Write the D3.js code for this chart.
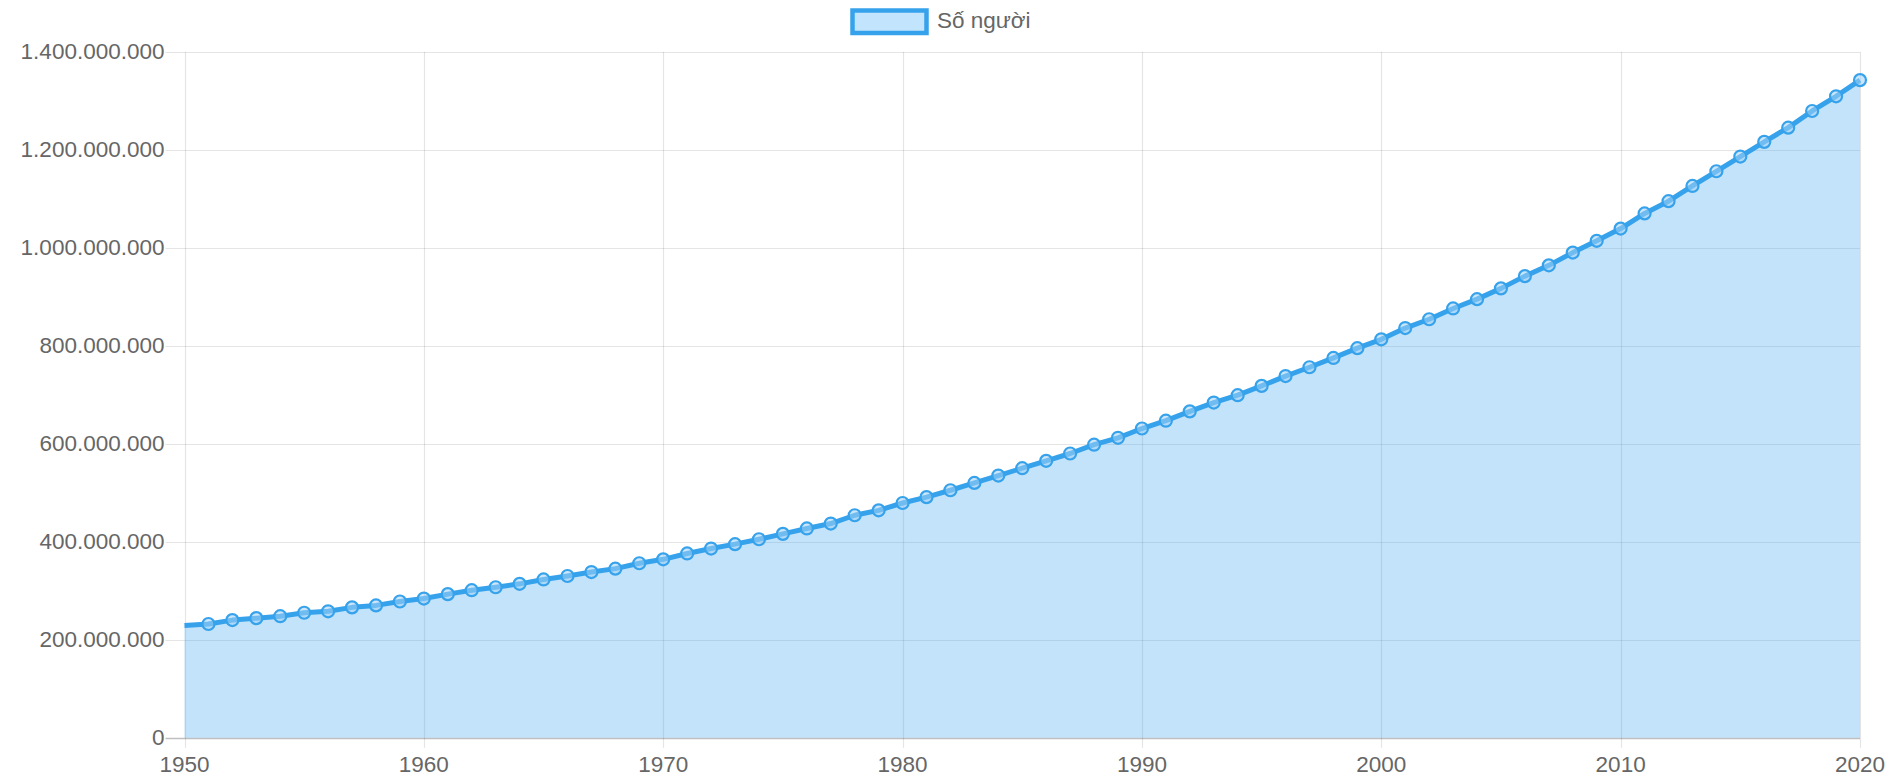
<!DOCTYPE html>
<html>
<head>
<meta charset="utf-8">
<script src="https://cdn.jsdelivr.net/npm/d3@7"></script>
<style>
  html, body { margin: 0; padding: 0; background: #fff; }
  svg { display: block; }
  text { font-family: "Liberation Sans", Arial, Helvetica, sans-serif; fill: #666; }
</style>
</head>
<body>
<svg id="chart" width="1893" height="776"></svg>
<script>
// ---- data ----
const seriesName = "Số người";
const years = [
  1950,1951,1952,1953,1954,1955,1956,1957,1958,1959,
  1960,1961,1962,1963,1964,1965,1966,1967,1968,1969,
  1970,1971,1972,1973,1974,1975,1976,1977,1978,1979,
  1980,1981,1982,1983,1984,1985,1986,1987,1988,1989,
  1990,1991,1992,1993,1994,1995,1996,1997,1998,1999,
  2000,2001,2002,2003,2004,2005,2006,2007,2008,2009,
  2010,2011,2012,2013,2014,2015,2016,2017,2018,2019,2020
];
const people = [
  229e6,232e6,240e6,244e6,248e6,255e6,258e6,266e6,270e6,278e6,
  284e6,293e6,301e6,307e6,314e6,323e6,330e6,338e6,345e6,356e6,
  364e6,376e6,386e6,395e6,405e6,416e6,427e6,437e6,454e6,464e6,
  479e6,491e6,505e6,520e6,535e6,550e6,565e6,580e6,598e6,612e6,
  631e6,647e6,666e6,684e6,699e6,718e6,738e6,756e6,775e6,795e6,
  813e6,836e6,854e6,876e6,895e6,917e6,942e6,964e6,990e6,1014e6,
  1039e6,1070e6,1095e6,1126e6,1156e6,1186e6,1216e6,1245e6,1279e6,1309e6,1342e6
];
const yTicks = [0,200e6,400e6,600e6,800e6,1000e6,1200e6,1400e6];
const xTicks = [1950,1960,1970,1980,1990,2000,2010,2020];

// ---- layout ----
const svg = d3.select("#chart");
const pLeft = 184.5, pRight = 1860, pTop = 51.7, pBottom = 737.7;
const fontSize = 22.5;
const blue = "#36A2EB";
const fillCol = "rgba(54,162,235,0.3)";

const x = d3.scaleLinear().domain([1950, 2020]).range([pLeft, pRight]);
const y = d3.scaleLinear().domain([0, 1400e6]).range([pBottom, pTop]);

const vi = d3.formatLocale({decimal: ",", thousands: ".", grouping: [3], currency: ["", ""]});
const fmt = vi.format(",");

const data = years.map((yr, i) => ({yr, v: people[i]}));

// gridlines
const grid = svg.append("g");
grid.selectAll(".hg").data(yTicks).join("line")
  .attr("x1", pLeft - 19).attr("x2", pRight)
  .attr("y1", d => Math.round(y(d)) + 0.5).attr("y2", d => Math.round(y(d)) + 0.5)
  .attr("stroke", d => d === 0 ? "rgba(0,0,0,0.25)" : "rgba(0,0,0,0.1)")
  .attr("stroke-width", d => d === 0 ? 1.5 : 1.2);
grid.selectAll(".vg").data(xTicks).join("line")
  .attr("y1", pTop).attr("y2", pBottom + 10)
  .attr("x1", d => Math.round(x(d)) + 0.5).attr("x2", d => Math.round(x(d)) + 0.5)
  .attr("stroke", "rgba(0,0,0,0.1)")
  .attr("stroke-width", 1.2);

// y labels
svg.append("g").selectAll("text").data(yTicks).join("text")
  .attr("x", pLeft - 20).attr("y", d => y(d))
  .attr("text-anchor", "end").attr("dominant-baseline", "central")
  .style("font-size", fontSize + "px")
  .text(d => fmt(d));

// x labels
svg.append("g").selectAll("text").data(xTicks).join("text")
  .attr("x", d => x(d)).attr("y", 772)
  .attr("text-anchor", "middle")
  .style("font-size", fontSize + "px")
  .text(d => d);

// area
const area = d3.area().x(d => x(d.yr)).y0(y(0)).y1(d => y(d.v));
svg.append("path").datum(data).attr("d", area).attr("fill", fillCol);

// line
const line = d3.line().x(d => x(d.yr)).y(d => y(d.v));
svg.append("path").datum(data).attr("d", line)
  .attr("fill", "none").attr("stroke", blue).attr("stroke-width", 5)
  .attr("stroke-linejoin", "round");

// points (first point hidden as in reference)
svg.append("g").selectAll("circle").data(data.slice(1)).join("circle")
  .attr("cx", d => x(d.yr)).attr("cy", d => y(d.v)).attr("r", 6)
  .attr("fill", "rgba(160,210,245,0.55)")
  .attr("stroke", blue).attr("stroke-width", 2.2);

// legend
const lg = svg.append("g");
lg.append("rect").attr("x", 852.5).attr("y", 10.5).attr("width", 74).attr("height", 22.5)
  .attr("fill", "rgba(194,228,252,1)").attr("stroke", blue).attr("stroke-width", 4.5);
lg.append("text").attr("x", 937).attr("y", 28)
  .style("font-size", fontSize + "px").text(seriesName);
</script>
</body>
</html>
